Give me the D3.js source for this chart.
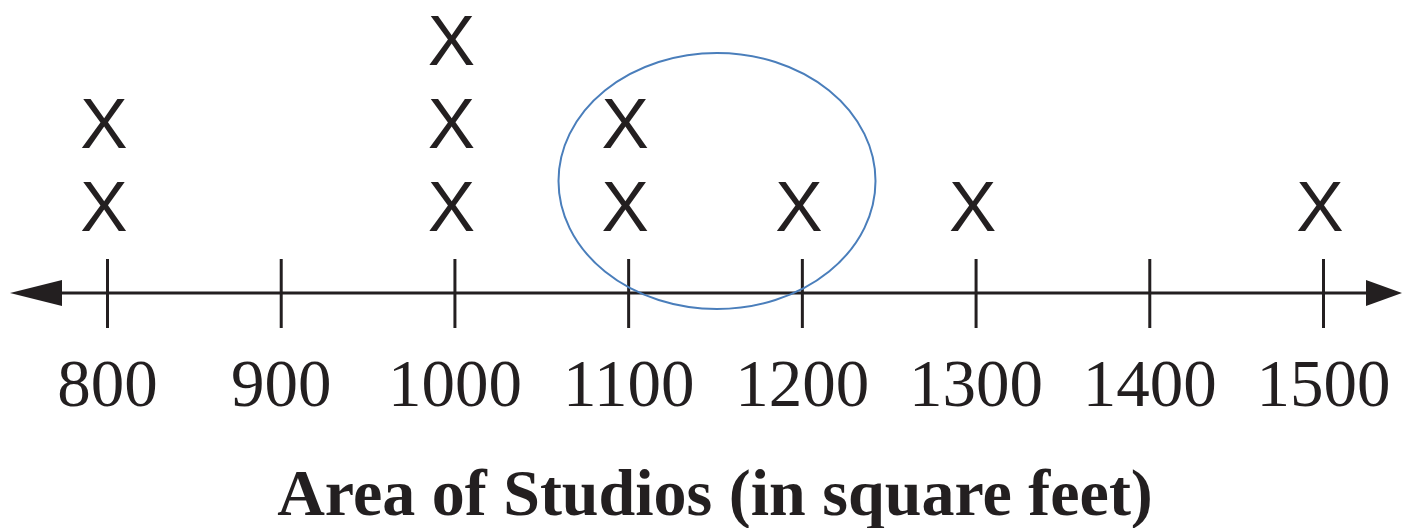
<!DOCTYPE html>
<html lang="en">
<head>
    <meta charset="UTF-8">
    <title>Area of Studios</title>
    <script src="https://d3js.org/d3.v7.min.js"></script>
    <style>
        body { margin: 0; background: #fff; }
    </style>
</head>
<body>
<script>
    const width  = 1403;
    const height = 528;

    // line plot data: one X per studio
    const areas  = [800, 900, 1000, 1100, 1200, 1300, 1400, 1500];
    const counts = [2, 0, 3, 2, 1, 1, 0, 1];
    const tickLabels = ["800", "900", "1000", "1100", "1200", "1300", "1400", "1500"];
    const title = "Area of Studios (in square feet)";
    const circled = [1100, 1200];

    const ink = "#231f20";
    const axisY = 293;

    const x = d3.scaleLinear()
                .domain([800, 1500])
                .range([107, 1323]);

    const stack = d3.scaleLinear()
                    .domain([1, 3])
                    .range([206, 40]);

    const svg = d3.select("body").append("svg")
                  .attr("width", width)
                  .attr("height", height);

    // main line with arrows
    svg.append("line")
       .attr("x1", 40).attr("x2", 1375)
       .attr("y1", axisY).attr("y2", axisY)
       .attr("stroke", ink)
       .attr("stroke-width", 3);

    svg.append("path")
       .attr("d", `M10,${axisY} L62,${axisY - 13} L62,${axisY + 13} Z`)
       .attr("fill", ink);
    svg.append("path")
       .attr("d", `M1402,${axisY} L1366,${axisY - 13} L1366,${axisY + 13} Z`)
       .attr("fill", ink);

    const axis = d3.axisBottom(x)
                   .tickValues(areas)
                   .tickFormat((d, i) => tickLabels[i])
                   .tickSize(69)
                   .tickPadding(0);

    const g = svg.append("g")
                 .attr("transform", `translate(0,${axisY - 34})`)
                 .call(axis);

    g.select(".domain").remove();
    g.selectAll(".tick line")
     .attr("stroke", ink)
     .attr("stroke-width", 3);
    g.selectAll(".tick text")
     .attr("fill", ink)
     .attr("y", 147)
     .attr("dy", null)
     .style("font-family", "'Liberation Serif', 'Times New Roman', serif")
     .style("font-size", "67px");

    // the X marks
    const marks = [];
    areas.forEach((a, i) => {
        for (let k = 1; k <= counts[i]; k++) marks.push({area: a, level: k});
    });

    svg.selectAll("text.mark")
       .data(marks)
       .enter().append("text")
       .attr("class", "mark")
       .attr("x", d => x(d.area) - 3)
       .attr("y", d => stack(d.level))
       .attr("dy", "0.35em")
       .attr("text-anchor", "middle")
       .attr("fill", ink)
       .style("font-family", "'Liberation Sans', Arial, sans-serif")
       .style("font-size", "71px")
       .text("X");

    // highlight ellipse
    svg.append("ellipse")
       .attr("cx", (x(circled[0]) + x(circled[1])) / 2 + 2)
       .attr("cy", 181)
       .attr("rx", 158.5)
       .attr("ry", 128)
       .attr("fill", "none")
       .attr("stroke", "#4a7ebb")
       .attr("stroke-width", 2);

    svg.append("text")
       .attr("x", 715)
       .attr("y", 515)
       .attr("text-anchor", "middle")
       .attr("fill", ink)
       .style("font-family", "'Liberation Serif', 'Times New Roman', serif")
       .style("font-weight", "bold")
       .style("font-size", "66px")
       .text(title);
</script>
</body>
</html>
